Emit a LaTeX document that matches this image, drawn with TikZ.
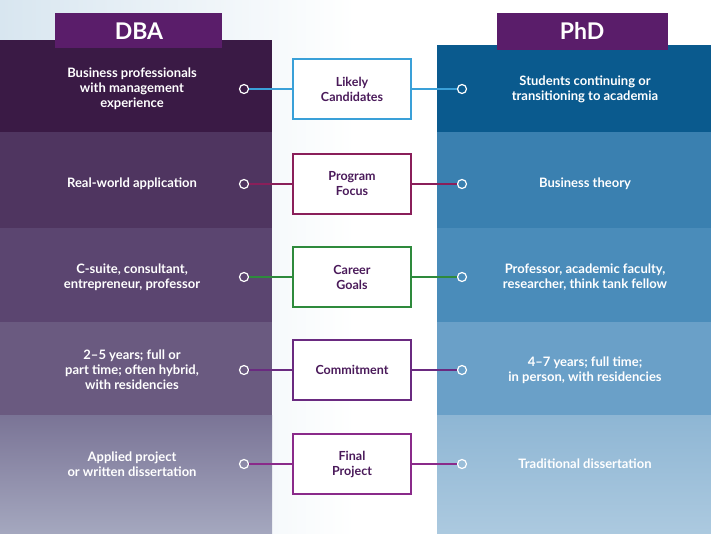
\documentclass[tikz,border=0pt]{standalone}
\usepackage{fontspec}
\setmainfont{Lato}
\begin{document}
\begin{tikzpicture}[x=1pt,y=-1pt,
  txt/.style={text=white,font=\bfseries\fontsize{13}{15}\selectfont,align=center},
  box/.style={draw=#1,line width=2pt,fill=white,minimum width=118pt,minimum height=60pt,text=hd,font=\bfseries\fontsize{12.5}{15}\selectfont,align=center},
  dot/.style={circle,draw=white,line width=1.2pt,minimum size=9pt,inner sep=0pt}]
\definecolor{hd}{HTML}{4A1A5A}
\definecolor{bg}{HTML}{D8E6F0}
\definecolor{hb}{HTML}{5A1D6A}
\definecolor{ca}{HTML}{3AA0D8}\definecolor{cb}{HTML}{8A1F5A}\definecolor{cc}{HTML}{2E8A3C}
\definecolor{cd}{HTML}{6A2A80}\definecolor{ce}{HTML}{8A2A8A}
\definecolor{l1}{HTML}{3A1A45}\definecolor{l2}{HTML}{4F3560}\definecolor{l3}{HTML}{5B4570}\definecolor{l4}{HTML}{6A5A80}\definecolor{l5}{HTML}{7A7496}
\definecolor{r1}{HTML}{0A5A8E}\definecolor{r2}{HTML}{3A80B0}\definecolor{r3}{HTML}{4A8CBA}\definecolor{r4}{HTML}{6AA0C8}\definecolor{r5}{HTML}{8EB6D4}
\useasboundingbox (0,0) rectangle (711,533);
\shade[left color=bg,right color=white,middle color=white] (0,0) rectangle (711,533);
\fill[l1] (0,40) rectangle (272,132);
\fill[l2] (0,132) rectangle (272,228);
\fill[l3] (0,228) rectangle (272,322);
\fill[l4] (0,322) rectangle (272,415);
\shade[top color=l5,bottom color=l5!55!bg] (0,415) rectangle (272,533);
\fill[r1] (437,45) rectangle (711,132);
\fill[r2] (437,132) rectangle (711,228);
\fill[r3] (437,228) rectangle (711,322);
\fill[r4] (437,322) rectangle (711,415);
\shade[top color=r5,bottom color=r5!60!bg] (437,415) rectangle (711,533);
\fill[hb] (55,13) rectangle (222,48);
\fill[hb] (497,13) rectangle (668,50);
\node[text=white,font=\bfseries\fontsize{23}{25}\selectfont] (hdba) at (139,31) {DBA};
\node[text=white,font=\bfseries\fontsize{23}{25}\selectfont] (hphd) at (582,31) {PhD};
\foreach \y/\c/\t/\l/\r [count=\i] in {
 89/ca/{Likely\\Candidates}/{Business professionals\\with management\\experience}/{Students continuing or\\transitioning to academia},
 184/cb/{Program\\Focus}/{Real-world application}/{Business theory},
 277/cc/{Career\\Goals}/{C-suite, consultant,\\entrepreneur, professor}/{Professor, academic faculty,\\researcher, think tank fellow},
 370/cd/{Commitment}/{2--5 years; full or\\part time; often hybrid,\\with residencies}/{4--7 years; full time;\\in person, with residencies},
 464/ce/{Final\\Project}/{Applied project\\or written dissertation}/{Traditional dissertation}}{
 \node[box=\c] (b\i) at (352,\y) {\t};
 \node[dot] (dl\i) at (244,\y) {};
 \node[dot] (dr\i) at (462,\y) {};
 \draw[\c,line width=1.5pt] (dl\i) -- (b\i);
 \draw[\c,line width=1.5pt] (b\i) -- (dr\i);
 \node[txt] (tl\i) at (132,\y) {\l};
 \node[txt] (tr\i) at (585,\y) {\r};
}
\end{tikzpicture}
\end{document}
